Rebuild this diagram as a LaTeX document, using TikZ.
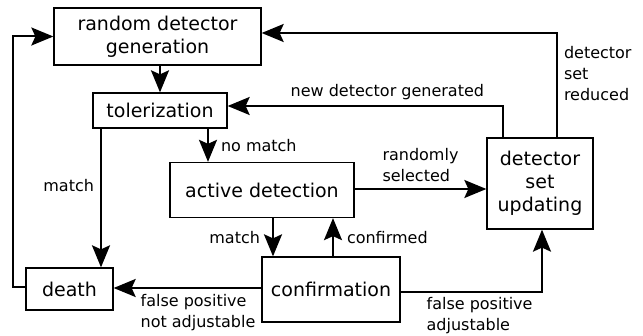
\documentclass[tikz,border=0pt]{standalone}
\usepackage{fontspec}
\setmainfont{DejaVu Sans}
\usetikzlibrary{arrows.meta}
\usetikzlibrary{positioning}

\begin{document}
\begin{tikzpicture}[x=1pt,y=-1pt,every node/.style={color=black},
  stage/.style={draw,line width=1.3pt,inner sep=0pt,align=center,font=\fontsize{19}{23}\selectfont},
  lbl/.style={inner sep=0pt,align=left,font=\fontsize{16}{21}\selectfont},
  >={Stealth[length=22pt,width=18pt,inset=4pt]},line width=2pt]
\useasboundingbox (0,0) rectangle (643,336);

\node[stage,minimum width=207pt,minimum height=57pt](gen) at (157.5, 36.5) {random detector\\generation};
\node[stage,minimum width=134pt,minimum height=35pt](tol) at (160, 110.5) {tolerization};
\node[stage,minimum width=184pt,minimum height=55pt](act) at (262, 190) {active detection};
\node[stage,minimum width=106pt,minimum height=91pt](upd) at (540, 183.5) {detector\\set\\updating};
\node[stage,minimum width=87pt,minimum height=42pt](death) at (69.5, 289) {death};
\node[stage,minimum width=138pt,minimum height=65pt](conf) at (331, 289.5) {confirmation};

\draw[->] (tol.north |- gen.south) -- (tol.north);
\draw[->] ([xshift=48pt]tol.south) -- ([xshift=48pt]tol.south |- act.north) node[lbl,midway,right=12pt]{no match};
\draw[->] ([xshift=-59pt]tol.south) -- ([xshift=-59pt]tol.south |- death.north) node[lbl,pos=0.41,left=6pt]{match};
\draw[->] ([yshift=1pt]act.east) -- ([yshift=1pt]act.east -| upd.west) node[lbl,midway,above=6pt]{randomly\\selected};
\draw[->] ([xshift=11pt]act.south) -- ([xshift=11pt]act.south |- conf.north) node[lbl,midway,left=12pt]{match};
\draw[->] ([xshift=2pt]conf.north) -- ([xshift=2pt]conf.north |- act.south) node[lbl,midway,right=13pt]{confirmed};
\draw[->] ([yshift=1.5pt]conf.west) -- ([yshift=1.5pt]conf.west -| death.east) node[lbl,pos=1,anchor=north west,xshift=26pt,yshift=-5pt]{false positive\\not adjustable};
\draw[->] ([yshift=-2.5pt]conf.east) -| ([xshift=2pt]upd.south) node[lbl,pos=0,anchor=north west,xshift=25pt,yshift=-4pt]{false positive\\adjustable};
\draw[->] ([xshift=-37pt]upd.north) |- ([yshift=4.5pt]tol.east) node[lbl,pos=0.71,above=5pt]{new detector generated};
\draw[->] ([xshift=17pt]upd.north) |- ([yshift=3.5pt]gen.east) node[lbl,pos=0.305,right=6pt]{detector\\set\\reduced};
\draw[->] ([yshift=2pt]death.west) -- ++(-12,0) |- (gen.west);
\end{tikzpicture}
\end{document}
